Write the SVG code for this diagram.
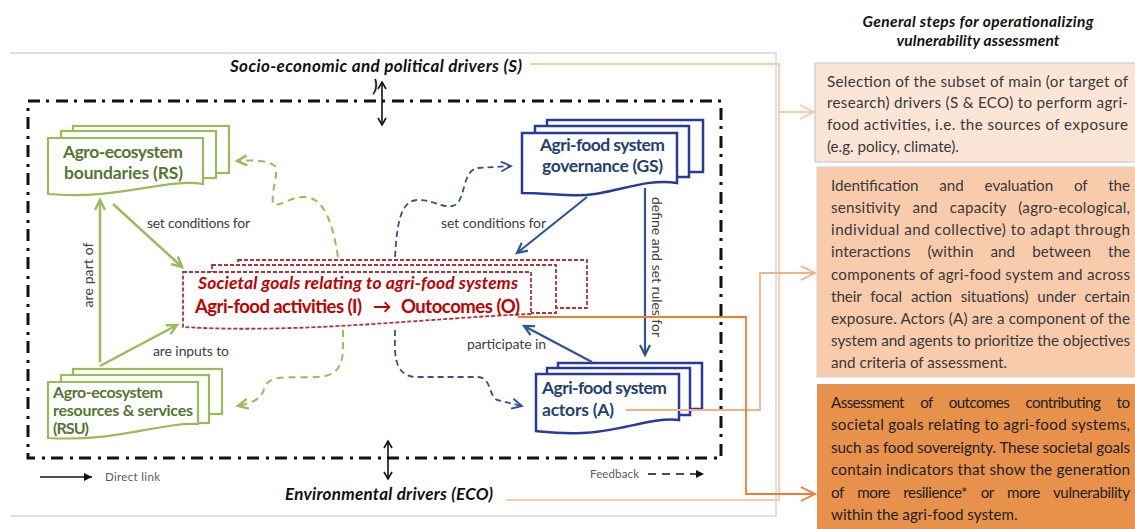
<svg xmlns="http://www.w3.org/2000/svg" width="1135" height="529" viewBox="0 0 1135 529">
  <style>
    text { font-family: Lato, "Liberation Sans", sans-serif; }
    .frame { fill: none; stroke: #d6d6d6; stroke-width: 1.5; }
    .dd { fill: none; stroke: #111; stroke-width: 3; stroke-dasharray: 12 6 3 7; }
    .gbox { fill: #fff; stroke: #9bbb59; stroke-width: 2.2; }
    .bbox { fill: #fff; stroke: #2a3a9c; stroke-width: 2.5; }
    .rbox { fill: #fff; stroke: #a8353a; stroke-width: 1.8; stroke-dasharray: 4 2; }
    .gtxt { font-weight: bold; fill: #567532; }
    .btxt { font-weight: bold; fill: #243f73; font-size: 17.5px; }
    .rtxt { fill: #c00000; }
    .lbl { font-size: 14px; fill: #404040; }
    .drv { font-weight: bold; font-style: italic; font-size: 17px; fill: #111; }
    .g-solid { fill: none; stroke: #9bbb59; stroke-width: 2.5; }
    .b-solid { fill: none; stroke: #2f5496; stroke-width: 2.2; }
    .g-dash { fill: none; stroke: #9bbb59; stroke-width: 2; stroke-dasharray: 7 5; }
    .b-dash { fill: none; stroke: #34508f; stroke-width: 1.8; stroke-dasharray: 6 4; }
    .blk { fill: none; stroke: #111; stroke-width: 1.6; }
    .step { font-size: 15.2px; fill: #3a3838; }
    .step3 { font-size: 15.2px; fill: #1e1e1e; }
    .legend { font-size: 11.5px; fill: #595959; }
  </style>
  <defs>
    <marker id="mGreen" markerUnits="userSpaceOnUse" markerWidth="14" markerHeight="14" refX="11" refY="6" orient="auto">
      <path d="M1,1 L11,6 L1,11" fill="none" stroke="#9bbb59" stroke-width="2.5"/>
    </marker>
    <marker id="mBlue" markerUnits="userSpaceOnUse" markerWidth="14" markerHeight="14" refX="11" refY="6" orient="auto">
      <path d="M1,1 L11,6 L1,11" fill="none" stroke="#2f5496" stroke-width="2.2"/>
    </marker>
    <marker id="mBlueD" markerUnits="userSpaceOnUse" markerWidth="14" markerHeight="14" refX="11" refY="6" orient="auto">
      <path d="M1,1 L11,6 L1,11" fill="none" stroke="#34508f" stroke-width="1.8"/>
    </marker>
    <marker id="mBlack" markerUnits="userSpaceOnUse" markerWidth="12" markerHeight="12" refX="8" refY="5" orient="auto-start-reverse">
      <path d="M1,1 L8,5 L1,9" fill="none" stroke="#111" stroke-width="1.6"/>
    </marker>
    <marker id="mTri" markerUnits="userSpaceOnUse" markerWidth="10" markerHeight="10" refX="8" refY="4" orient="auto">
      <path d="M0,0 L8,4 L0,8 Z" fill="#111"/>
    </marker>
    <marker id="mPeach" markerUnits="userSpaceOnUse" markerWidth="18" markerHeight="18" refX="15" refY="8" orient="auto">
      <path d="M1,1 L15,8 L1,15" fill="none" stroke="#f8cbad" stroke-width="1.8"/>
    </marker>
    <marker id="mLightOr" markerUnits="userSpaceOnUse" markerWidth="18" markerHeight="18" refX="15" refY="8" orient="auto">
      <path d="M1,1 L15,8 L1,15" fill="none" stroke="#f4b183" stroke-width="1.8"/>
    </marker>
    <marker id="mOrange" markerUnits="userSpaceOnUse" markerWidth="18" markerHeight="18" refX="15" refY="8" orient="auto">
      <path d="M1,1 L15,8 L1,15" fill="none" stroke="#ed7d31" stroke-width="1.8"/>
    </marker>
  </defs>

  <rect x="0" y="0" width="1135" height="529" fill="#fff"/>

  <!-- outer frame and system boundary -->
  <path class="frame" d="M10,53 H776 V516 H10"/>
  <rect class="dd" x="28" y="101" width="693" height="357"/>

  <!-- drivers -->
  <g id="drivers">
    <text class="drv" x="230" y="72" textLength="292" lengthAdjust="spacing">Socio-economic and political drivers (S)</text>
    <text class="drv" x="373" y="92" font-size="14">)</text>
    <text class="drv" x="285" y="500" textLength="208" lengthAdjust="spacing">Environmental drivers (ECO)</text>
  </g>

  <!-- nodes -->
  <g id="node-rs">
    <rect class="gbox" x="73" y="126" width="156" height="47"/>
    <rect class="gbox" x="61" y="131" width="155" height="47"/>
    <path class="gbox" d="M48,138 H203 V184 C165,178 120,200 48,194 Z"/>
    <text class="gtxt" x="63" y="158" font-size="17.5" textLength="120" lengthAdjust="spacing">Agro-ecosystem</text>
    <text class="gtxt" x="64" y="179" font-size="17.5" textLength="119" lengthAdjust="spacing">boundaries (RS)</text>
  </g>

  <g id="node-rsu">
    <rect class="gbox" x="73" y="369" width="149" height="45"/>
    <rect class="gbox" x="61" y="375" width="148" height="48"/>
    <path class="gbox" d="M48,382 H198 V424 C160,422 120,442 48,438 Z"/>
    <text class="gtxt" x="53" y="398" font-size="16" textLength="110" lengthAdjust="spacing">Agro-ecosystem</text>
    <text class="gtxt" x="53" y="416" font-size="16" textLength="140" lengthAdjust="spacing">resources &amp; services</text>
    <text class="gtxt" x="53" y="434" font-size="16" textLength="36" lengthAdjust="spacing">(RSU)</text>
  </g>

  <g id="node-gs">
    <rect class="bbox" x="547" y="120" width="156" height="52"/>
    <rect class="bbox" x="535" y="126" width="154" height="51"/>
    <path class="bbox" d="M522,133 H677 V183 C640,177 610,198 568,195 C548,194 535,193 522,193 Z"/>
    <text class="btxt" x="540" y="151" textLength="125" lengthAdjust="spacing">Agri-food system</text>
    <text class="btxt" x="542" y="172" textLength="121" lengthAdjust="spacing">governance (GS)</text>
  </g>

  <g id="node-a">
    <rect class="bbox" x="558" y="363" width="144" height="46"/>
    <rect class="bbox" x="547" y="368" width="143" height="47"/>
    <path class="bbox" d="M536,374 H679 V420 C650,417 620,432 582,433 C560,434 546,432 536,431 Z"/>
    <text class="btxt" x="542" y="394" textLength="125" lengthAdjust="spacing">Agri-food system</text>
    <text class="btxt" x="542" y="416" textLength="72" lengthAdjust="spacing">actors (A)</text>
  </g>

  <g id="node-goals">
    <rect class="rbox" x="238" y="260" width="349" height="48"/>
    <rect class="rbox" x="212" y="265" width="344" height="48"/>
    <path class="rbox" d="M183,272 H531 V314 C430,318 300,334 183,327 Z"/>
    <text class="rtxt" x="198" y="289" font-size="17.5" font-style="italic" font-weight="bold" textLength="320" lengthAdjust="spacing">Societal goals relating to agri-food systems</text>
    <text class="rtxt" y="313" font-size="18.5" font-weight="bold">
      <tspan x="195" textLength="167" lengthAdjust="spacing">Agri-food activities (I)</tspan>
      <tspan x="373">→</tspan>
      <tspan x="401" textLength="119" lengthAdjust="spacing">Outocomes (O)</tspan>
    </text>
  </g>

  <!-- links between the components -->
  <g id="connectors">
    <!-- direct links -->
    <path class="g-solid" d="M113,204 L182,267" marker-end="url(#mGreen)"/>
    <path class="g-solid" d="M100,362 V200" marker-end="url(#mGreen)"/>
    <path class="g-solid" d="M100,366 L177,325" marker-end="url(#mGreen)"/>
    <path class="b-solid" d="M587,197 L517,253" marker-end="url(#mBlue)"/>
    <path class="b-solid" d="M645,188 V355" marker-end="url(#mBlue)"/>
    <path class="b-solid" d="M592,362 L524,326" marker-end="url(#mBlue)"/>

    <!-- feedbacks -->
    <path class="g-dash" d="M338,257 C333,225 325,198 305,197 C290,196 283,207 273,204 C271,190 279,175 275,166 C268,160 252,160 237,161" marker-end="url(#mGreen)"/>
    <path class="g-dash" d="M343,330 C343,350 346,372 325,376 C300,380 272,372 265,386 C262,396 260,401 238,406" marker-end="url(#mGreen)"/>
    <path class="b-dash" d="M395,257 C397,225 400,200 418,200 C435,200 445,210 455,205 C466,199 462,170 478,168 L511,166" marker-end="url(#mBlueD)"/>
    <path class="b-dash" d="M395,330 C395,350 392,375 415,377 L478,377 C492,378 488,395 497,400 L522,406" marker-end="url(#mBlueD)"/>

    <!-- driver influences -->
    <path class="blk" d="M382,82 V125" marker-start="url(#mBlack)" marker-end="url(#mBlack)"/>
    <path class="blk" d="M388,441 V479" marker-start="url(#mBlack)" marker-end="url(#mBlack)"/>

    <!-- links to the assessment steps -->
    <path fill="none" stroke="#f8cbad" stroke-width="1.8" d="M530,64 H779 V500 H506"/>
    <path fill="none" stroke="#f8cbad" stroke-width="1.8" d="M779,112 H814" marker-end="url(#mPeach)"/>
    <path fill="none" stroke="#f4b183" stroke-width="1.8" d="M626,410 H760 V273 H815" marker-end="url(#mLightOr)"/>
    <path fill="none" stroke="#ed7d31" stroke-width="1.8" d="M518,317 H746 V494 H815" marker-end="url(#mOrange)"/>

    <!-- legend -->
    <path fill="none" stroke="#111" stroke-width="1.3" d="M40,477 H92" marker-end="url(#mTri)"/>
    <path fill="none" stroke="#111" stroke-width="1.6" stroke-dasharray="8 6" d="M648,474 H704" marker-end="url(#mTri)"/>
  </g>

  <!-- link labels -->
  <g id="labels">
    <text class="lbl" x="147" y="228" textLength="103" lengthAdjust="spacing">set conditions for</text>
    <text class="lbl" x="153" y="356" textLength="76" lengthAdjust="spacing">are inputs to</text>
    <text class="lbl" transform="translate(93,275) rotate(-90)" text-anchor="middle" textLength="65" lengthAdjust="spacing">are part of</text>
    <text class="lbl" x="441" y="228" textLength="105" lengthAdjust="spacing">set conditions for</text>
    <text class="lbl" transform="translate(652,267) rotate(90)" text-anchor="middle" textLength="140" lengthAdjust="spacing">define and set rules for</text>
    <text class="lbl" x="467" y="349" textLength="79" lengthAdjust="spacing">participate in</text>
    <text class="legend" x="105" y="481" textLength="55" lengthAdjust="spacing">Direct link</text>
    <text class="legend" x="590" y="478" textLength="49" lengthAdjust="spacing">Feedback</text>
  </g>

  <!-- assessment steps -->
  <g id="steps-title">
    <text x="978" y="27" text-anchor="middle" font-size="15.5" font-weight="bold" font-style="italic" fill="#111" textLength="231" lengthAdjust="spacing">General steps for operationalizing</text>
    <text x="978" y="46" text-anchor="middle" font-size="15.5" font-weight="bold" font-style="italic" fill="#111" textLength="163" lengthAdjust="spacing">vulnerability assessment</text>
  </g>

  <!-- justified lines: word-spacing opens the gaps, textLength trims the remainder -->
  <g id="step-exposure">
    <rect x="815" y="63" width="325" height="99" fill="#fbe5d6" stroke="#c4c4c4" stroke-width="1"/>
    <text class="step" x="827" y="87" textLength="301" lengthAdjust="spacing">Selection of the subset of main (or target of</text>
    <text class="step" x="827" y="108" textLength="301" lengthAdjust="spacing">research) drivers (S &amp; ECO) to perform agri-</text>
    <text class="step" x="827" y="130" textLength="301" lengthAdjust="spacing">food activities, i.e. the sources of exposure</text>
    <text class="step" x="827" y="152">(e.g. policy, climate).</text>
  </g>

  <g id="step-sensitivity">
    <rect x="817" y="167" width="325" height="210" fill="#f8cbad" stroke="#d6d0cc" stroke-width="1"/>
    <text class="step" x="831" y="191" word-spacing="17" textLength="299" lengthAdjust="spacing">Identification and evaluation of the</text>
    <text class="step" x="831" y="213" word-spacing="8" textLength="299" lengthAdjust="spacing">sensitivity and capacity (agro-ecological,</text>
    <text class="step" x="831" y="235" textLength="299" lengthAdjust="spacing">individual and collective) to adapt through</text>
    <text class="step" x="831" y="257" word-spacing="13" textLength="299" lengthAdjust="spacing">interactions (within and between the</text>
    <text class="step" x="831" y="280" textLength="299" lengthAdjust="spacing">components of agri-food system and across</text>
    <text class="step" x="831" y="302" word-spacing="5" textLength="299" lengthAdjust="spacing">their focal action situations) under certain</text>
    <text class="step" x="831" y="324" textLength="299" lengthAdjust="spacing">exposure. Actors (A) are a component of the</text>
    <text class="step" x="831" y="346" textLength="299" lengthAdjust="spacing">system and agents to prioritize the objectives</text>
    <text class="step" x="831" y="368">and criteria of assessment.</text>
  </g>

  <g id="step-outcomes">
    <rect x="817" y="384" width="325" height="150" fill="#e8914a"/>
    <text class="step3" x="831" y="408" word-spacing="13" textLength="299" lengthAdjust="spacing">Assessment of outcomes contributing to</text>
    <text class="step3" x="831" y="430" textLength="299" lengthAdjust="spacing">societal goals relating to agri-food systems,</text>
    <text class="step3" x="831" y="453" textLength="299" lengthAdjust="spacing">such as food sovereignty. These societal goals</text>
    <text class="step3" x="831" y="475" textLength="299" lengthAdjust="spacing">contain indicators that show the generation</text>
    <text class="step3" x="831" y="498" word-spacing="10" textLength="299" lengthAdjust="spacing">of more resilience* or more vulnerability</text>
    <text class="step3" x="831" y="520">within the agri-food system.</text>
  </g>
</svg>
